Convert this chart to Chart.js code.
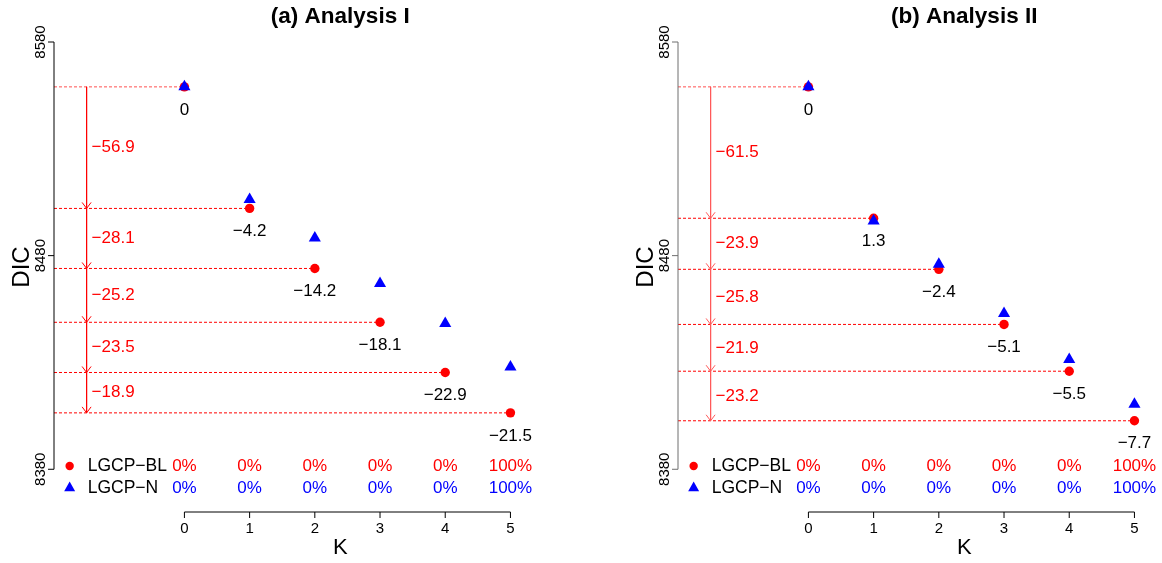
<!DOCTYPE html>
<html>
<head>
<meta charset="utf-8">
<script src="https://cdn.jsdelivr.net/npm/chart.js@4.4.1/dist/chart.umd.min.js"></script>
<style>
  body { margin: 0; background: #fff; }
  canvas { position: absolute; top: 0; }
  #panelA { left: 0; }
  #panelB { left: 624px; }
</style>
</head>
<body>
<canvas id="panelA" width="538" height="563"></canvas>
<canvas id="panelB" width="538" height="563"></canvas>
<script>
const M = '\u2212'

// nombre de composantes K
const kValues = [0, 1, 2, 3, 4, 5]
const yTicks = [8380, 8480, 8580]

// (a) Analysis I
const dicBL_A = [8559.0, 8502.1, 8474.0, 8448.8, 8425.3, 8406.4]
const dicN_A = [8559.0, 8506.3, 8488.2, 8466.9, 8448.2, 8427.9]
const stepLabels_A = [M + '56.9', M + '28.1', M + '25.2', M + '23.5', M + '18.9']
const gapLabels_A = ['0', M + '4.2', M + '14.2', M + '18.1', M + '22.9', M + '21.5']

// (b) Analysis II
const dicBL_B = [8559.0, 8497.5, 8473.6, 8447.8, 8425.9, 8402.7]
const dicN_B = [8559.0, 8496.2, 8476.0, 8452.9, 8431.4, 8410.4]
const stepLabels_B = [M + '61.5', M + '23.9', M + '25.8', M + '21.9', M + '23.2']
const gapLabels_B = ['0', '1.3', M + '2.4', M + '5.1', M + '5.5', M + '7.7']

// pourcentages affichés sous les points
const pctBL = ['0%', '0%', '0%', '0%', '0%', '100%']
const pctN = ['0%', '0%', '0%', '0%', '0%', '100%']

const RED = '#ff0000'
const BLUE = '#0000ff'
const FONT = '"Liberation Sans", Arial, sans-serif'

/*
Plugin qui dessine les axes façon R, les flèches, les annotations et la légende
*/
const decorPlugin = {
    id: 'decor',
    afterDatasetsDraw(chart, args, opts) {
        const ctx = chart.ctx
        const xs = chart.scales.x
        const ys = chart.scales.y
        const px = (v) => xs.getPixelForValue(v)
        const py = (v) => ys.getPixelForValue(v)
        const bl = opts.bl
        ctx.save()

        // axe Y
        const ax = px(-2)
        ctx.strokeStyle = opts.yAxisColor
        ctx.lineWidth = 1
        ctx.beginPath()
        ctx.moveTo(ax, py(yTicks[0]))
        ctx.lineTo(ax, py(yTicks[yTicks.length - 1]))
        yTicks.forEach((t) => {
            ctx.moveTo(ax, py(t))
            ctx.lineTo(ax - 6, py(t))
        })
        ctx.stroke()
        ctx.fillStyle = '#000'
        ctx.font = '15px ' + FONT
        ctx.textAlign = 'center'
        ctx.textBaseline = 'middle'
        yTicks.forEach((t) => {
            ctx.save()
            ctx.translate(ax - 13, py(t))
            ctx.rotate(-Math.PI / 2)
            ctx.fillText(String(t), 0, 0)
            ctx.restore()
        })
        ctx.save()
        ctx.font = '24px ' + FONT
        ctx.translate(ax - 32, 267)
        ctx.rotate(-Math.PI / 2)
        ctx.fillText('DIC', 0, 0)
        ctx.restore()

        // axe X
        const ay = chart.chartArea.bottom
        ctx.strokeStyle = '#000'
        ctx.beginPath()
        ctx.moveTo(px(kValues[0]), ay)
        ctx.lineTo(px(kValues[kValues.length - 1]), ay)
        kValues.forEach((k) => {
            ctx.moveTo(px(k), ay)
            ctx.lineTo(px(k), ay + 6)
        })
        ctx.stroke()
        ctx.font = '15px ' + FONT
        kValues.forEach((k) => ctx.fillText(String(k), px(k), ay + 17))
        ctx.font = '22px ' + FONT
        ctx.fillText('K', px(2.39), ay + 36)

        // titre
        ctx.font = 'bold 22.5px ' + FONT
        ctx.fillText(opts.title, px(2.39), 17)

        // pointes de flèches
        const vx = px(-1.5)
        ctx.strokeStyle = opts.arrowColor
        ctx.beginPath()
        for (let i = 1; i < bl.length; i++) {
            const y = py(bl[i])
            ctx.moveTo(vx - 4.5, y - 6)
            ctx.lineTo(vx, y)
            ctx.lineTo(vx + 4.5, y - 6)
        }
        ctx.stroke()

        // écarts entre K successifs
        ctx.font = '17px ' + FONT
        ctx.fillStyle = RED
        ctx.textAlign = 'left'
        opts.steps.forEach((s, i) => {
            ctx.fillText(s, vx + 5, (py(bl[i]) + py(bl[i + 1])) / 2)
        })

        // écart BL - N sous chaque point
        ctx.fillStyle = '#000'
        ctx.textAlign = 'center'
        opts.gaps.forEach((g, i) => {
            ctx.fillText(g, px(kValues[i]), py(bl[i]) + 23)
        })

        // légende
        const lx = px(-1.76)
        const r1 = 466
        const r2 = 488
        ctx.fillStyle = RED
        ctx.beginPath()
        ctx.arc(lx, r1, 4.2, 0, Math.PI * 2)
        ctx.fill()
        ctx.fillStyle = BLUE
        ctx.beginPath()
        ctx.moveTo(lx, r2 - 6.4)
        ctx.lineTo(lx + 5.5, r2 + 3.2)
        ctx.lineTo(lx - 5.5, r2 + 3.2)
        ctx.closePath()
        ctx.fill()
        ctx.fillStyle = '#000'
        ctx.textAlign = 'left'
        ctx.font = '17.5px ' + FONT
        ctx.fillText('LGCP' + M + 'BL', lx + 18, r1)
        ctx.fillText('LGCP' + M + 'N', lx + 18, r2)

        ctx.font = '17px ' + FONT
        ctx.textAlign = 'center'
        ctx.fillStyle = RED
        pctBL.forEach((p, i) => ctx.fillText(p, px(kValues[i]), r1))
        ctx.fillStyle = BLUE
        pctN.forEach((p, i) => ctx.fillText(p, px(kValues[i]), r2))

        ctx.restore()
    }
}

function createPanel(_id, _bl, _n, _steps, _gaps, _title, _arrowColor, _yAxisColor) {
    const ctx = document.getElementById(_id)

    // lignes pointillées horizontales depuis l'axe jusqu'au point BL
    const dashed = _bl.map((v, i) => ({
        type: 'line',
        data: [{ x: -2, y: v }, { x: kValues[i], y: v }],
        borderColor: i === 0 ? '#ff5050' : RED,
        borderWidth: 1,
        borderDash: [3, 2],
        pointRadius: 0,
        showLine: true,
        order: 3
    }))

    new Chart(ctx, {
        type: 'scatter',
        data: {
            datasets: [
                {
                    label: 'LGCP-N',
                    data: kValues.map((k, i) => ({ x: k, y: _n[i] })),
                    pointStyle: 'triangle',
                    pointRadius: 7,
                    backgroundColor: BLUE,
                    borderWidth: 0,
                    order: 0
                },
                {
                    label: 'LGCP-BL',
                    data: kValues.map((k, i) => ({ x: k, y: _bl[i] })),
                    pointStyle: 'circle',
                    pointRadius: 4.7,
                    backgroundColor: RED,
                    borderWidth: 0,
                    order: 1
                },
                {
                    type: 'line',
                    data: [{ x: -1.5, y: _bl[0] }, { x: -1.5, y: _bl[_bl.length - 1] }],
                    borderColor: _arrowColor,
                    borderWidth: 1,
                    pointRadius: 0,
                    showLine: true,
                    order: 2
                },
                ...dashed
            ]
        },
        options: {
            animation: false,
            responsive: false,
            layout: { padding: { left: 54, right: 8, top: 42, bottom: 51 } },
            scales: {
                x: { type: 'linear', min: -2, max: 5.3, display: false },
                y: { type: 'linear', min: 8360, max: 8580, display: false }
            },
            plugins: {
                legend: { display: false },
                tooltip: { enabled: false },
                decor: {
                    bl: _bl,
                    steps: _steps,
                    gaps: _gaps,
                    title: _title,
                    arrowColor: _arrowColor,
                    yAxisColor: _yAxisColor
                }
            }
        },
        plugins: [decorPlugin]
    })
}

createPanel('panelA', dicBL_A, dicN_A, stepLabels_A, gapLabels_A, '(a) Analysis I', RED, '#000')
createPanel('panelB', dicBL_B, dicN_B, stepLabels_B, gapLabels_B, '(b) Analysis II', '#ff5a5a', '#6e6e6e')
</script>
</body>
</html>
